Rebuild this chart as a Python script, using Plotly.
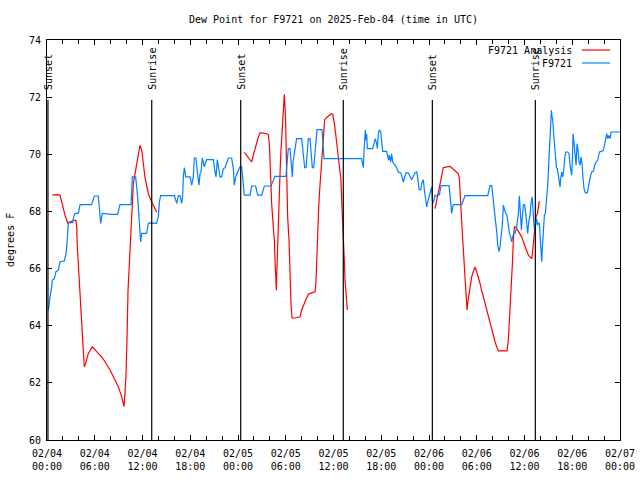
import pandas as pd
import plotly.graph_objects as go

BASE = pd.Timestamp("2025-02-04 00:00")

# Hours after 2025-02-04 00:00 UTC and dew point (F)
obs_hours = [0.17, 0.25, 0.38, 0.59, 0.67, 0.92, 1.13, 1.42, 1.63, 2.18, 2.39, 2.51, 2.68, 2.89, 3.23, 3.35, 3.52, 3.94,
             4.15, 5.61, 5.95, 6.45, 6.66, 6.74, 6.87, 6.95, 8.13, 8.88, 9.17, 10.56, 10.72, 11.14, 11.39, 11.69, 11.77,
             11.90, 12.52, 12.73, 12.94, 13.78, 13.99, 14.12, 14.28, 16.01, 16.21, 16.30, 16.50, 16.71, 16.92, 17.05,
             17.13, 17.26, 17.43, 17.97, 18.18, 18.39, 18.51, 18.72, 18.89, 19.10, 19.23, 19.35, 19.52, 19.65, 19.77,
             20.06, 20.90, 21.11, 21.24, 21.40, 21.57, 21.74, 21.95, 22.16, 22.37, 22.58, 22.79, 23.20, 23.41, 23.54,
             23.71, 23.96, 24.25, 24.46, 24.67, 24.79, 25.51, 25.72, 26.22, 26.47, 26.98, 27.31, 28.15, 28.44, 28.65,
             30.03, 30.16, 30.32, 30.53, 30.66, 30.74, 30.83, 30.91, 31.04, 31.25, 31.37, 32.00, 32.13, 32.30, 32.38,
             32.55, 32.71, 32.84, 33.05, 33.17, 33.34, 33.51, 33.68, 33.80, 33.93, 34.56, 34.68, 34.81, 39.54, 39.62,
             39.75, 39.84, 39.92, 40.00, 40.09, 40.17, 40.25, 40.92, 41.09, 41.26, 41.42, 41.51, 41.64, 41.76, 41.93,
             42.05, 42.18, 42.68, 42.81, 42.93, 43.02, 43.19, 43.31, 43.44, 43.65, 43.86, 44.15, 44.44, 44.61, 44.78,
             44.95, 45.11, 45.41, 45.62, 45.82, 46.03, 46.24, 46.45, 46.58, 46.75, 46.96, 47.08, 47.29, 47.42, 47.58,
             47.71, 47.84, 47.96, 48.13, 48.34, 48.42, 48.51, 48.63, 48.76, 48.97, 49.18, 49.30, 49.39, 49.51, 50.52,
             50.64, 50.77, 50.85, 50.94, 51.06, 52.11, 52.32, 52.53, 55.38, 55.54, 55.67, 55.88, 56.00, 56.13, 56.30,
             56.42, 56.55, 56.63, 56.80, 56.93, 57.05, 57.22, 57.34, 57.47, 57.64, 57.80, 57.97, 58.10, 58.27, 58.39,
             58.52, 58.64, 58.81, 59.02, 59.23, 59.36, 59.44, 59.52, 59.61, 59.69, 59.77, 59.86, 59.94, 60.03, 60.15,
             60.28, 60.40, 60.53, 60.70, 60.82, 60.95, 61.03, 61.12, 61.24, 61.41, 61.53, 61.62, 61.74, 61.87, 61.95,
             62.04, 62.16, 62.25, 62.37, 62.50, 62.62, 62.79, 62.92, 63.04, 63.17, 63.29, 63.38, 63.46, 63.55, 63.63,
             63.75, 63.88, 64.01, 64.13, 64.26, 64.34, 64.47, 64.55, 64.68, 64.80, 64.93, 65.05, 65.18, 65.43, 65.60,
             65.72, 65.81, 65.93, 66.02, 66.10, 66.23, 66.35, 66.48, 66.60, 66.73, 66.85, 66.98, 67.11, 67.23, 67.36,
             67.48, 67.65, 67.90, 68.03, 68.15, 68.32, 68.45, 68.66, 68.82, 68.99, 69.20, 69.41, 69.70, 69.91, 70.04,
             70.21, 70.33, 70.46, 70.58, 70.75, 70.88, 72.00]
obs_values = [64.55, 64.78, 65.01, 65.36, 65.59, 65.65, 65.89, 65.94, 66.24, 66.27, 66.53, 66.88, 67.58, 67.61, 67.61,
              67.81, 67.93, 67.93, 68.24, 68.24, 68.54, 68.54, 67.81, 67.58, 67.81, 67.93, 67.90, 67.90, 68.24, 68.24,
              69.21, 69.21, 68.51, 67.23, 66.93, 67.23, 67.23, 67.58, 67.60, 67.58, 67.83, 68.33, 68.55, 68.55, 68.28,
              68.28, 68.55, 68.55, 68.28, 68.55, 69.21, 69.53, 69.21, 69.21, 68.92, 69.21, 69.87, 69.87, 69.38, 68.92,
              69.32, 69.38, 69.87, 69.73, 69.56, 69.81, 69.81, 69.38, 69.21, 69.81, 69.56, 69.21, 69.21, 69.50, 69.53,
              69.73, 69.87, 69.87, 69.50, 68.92, 69.21, 69.38, 69.56, 69.56, 68.86, 68.57, 68.57, 68.89, 68.89, 68.57,
              68.57, 68.89, 68.89, 69.09, 69.23, 69.23, 69.67, 70.20, 70.20, 69.73, 69.44, 69.21, 69.73, 69.97, 70.37,
              70.55, 70.55, 70.20, 69.73, 69.53, 69.53, 70.20, 70.55, 70.55, 70.14, 69.53, 69.53, 70.20, 70.55, 70.86,
              70.86, 70.49, 69.85, 69.85, 69.73, 69.53, 70.14, 70.49, 70.86, 70.49, 70.72, 70.20, 70.20, 70.37, 70.55,
              70.37, 70.20, 70.72, 70.86, 70.78, 70.49, 70.10, 70.10, 69.97, 69.79, 69.97, 69.73, 70.02, 69.73, 69.65,
              69.58, 69.38, 69.35, 69.21, 69.03, 69.21, 69.35, 69.35, 69.23, 69.11, 69.23, 69.35, 69.38, 69.18, 68.76,
              68.76, 68.97, 69.11, 68.74, 68.39, 68.16, 68.33, 68.45, 68.57, 68.86, 68.39, 68.28, 68.39, 68.57, 68.53,
              68.60, 68.57, 68.74, 68.90, 68.90, 68.62, 68.16, 67.93, 68.10, 68.24, 68.24, 68.39, 68.55, 68.55, 68.74,
              68.90, 68.90, 68.62, 68.16, 67.93, 67.46, 67.17, 66.82, 66.59, 66.76, 67.11, 67.58, 68.22, 68.04, 67.93,
              67.87, 67.58, 67.23, 67.11, 66.93, 67.11, 67.23, 67.23, 67.46, 67.93, 68.55, 68.16, 67.58, 67.34, 67.69,
              68.16, 68.22, 68.24, 68.22, 67.93, 67.46, 67.23, 67.63, 67.87, 68.28, 68.51, 68.22, 67.81, 67.34, 67.58,
              67.75, 67.52, 67.58, 67.58, 67.23, 66.64, 66.24, 66.76, 67.58, 67.87, 67.93, 68.39, 68.92, 69.62, 70.43,
              71.19, 71.54, 71.31, 71.19, 70.84, 70.49, 69.91, 69.53, 69.50, 69.27, 69.03, 68.86, 69.15, 69.38, 69.21,
              69.44, 69.85, 70.08, 70.08, 70.02, 69.62, 69.38, 69.27, 69.85, 70.72, 70.37, 69.91, 69.62, 70.37, 70.14,
              69.73, 69.62, 69.91, 69.67, 69.15, 68.80, 68.65, 68.65, 68.86, 69.09, 69.27, 69.38, 69.41, 69.62, 69.73,
              69.79, 70.08, 70.10, 70.14, 70.31, 70.49, 70.72, 70.55, 70.66, 70.55, 70.78, 70.78]

ana1_hours = [0.67, 1.21, 1.63, 1.84, 2.05, 2.26, 2.60, 3.10, 3.44, 3.64, 3.73, 3.81, 3.94, 4.06, 4.19, 4.31, 4.44, 4.61,
              4.69, 4.86, 5.19, 5.70, 6.24, 6.87, 7.29, 7.92, 8.54, 8.96, 9.38, 9.68, 9.80, 9.93, 10.05, 10.18, 10.35,
              10.56, 10.72, 10.85, 11.06, 11.27, 11.48, 11.69, 11.90, 12.10, 12.31, 12.73, 13.15, 13.78]
ana1_values = [68.57, 68.59, 68.57, 68.33, 68.10, 67.87, 67.60, 67.66, 67.69, 67.69, 67.46, 66.76, 66.06, 65.48, 64.78,
               64.20, 63.50, 62.91, 62.56, 62.68, 63.03, 63.26, 63.09, 62.91, 62.74, 62.45, 62.10, 61.86, 61.52, 61.17,
               61.63, 62.33, 63.50, 65.24, 66.18, 67.58, 68.39, 68.97, 69.32, 69.67, 70.02, 70.31, 70.14, 69.70, 69.20,
               68.62, 68.33, 67.98]

ana2_hours = [24.79, 25.09, 25.38, 25.72, 25.93, 26.14, 26.35, 26.56, 26.77, 26.98, 27.60, 27.81, 27.94, 28.06, 28.15,
              28.23, 28.40, 28.57, 28.65, 28.73, 28.82, 28.86, 28.94, 29.07, 29.15, 29.28, 29.40, 29.57, 29.70, 29.82,
              29.91, 29.99, 30.12, 30.24, 30.41, 30.53, 30.66, 30.79, 31.16, 31.79, 32.00, 32.42, 32.63, 32.84, 33.26,
              33.68, 33.80, 33.89, 33.97, 34.14, 34.26, 34.39, 34.56, 34.72, 34.89, 35.10, 35.52, 35.73, 35.90, 35.98,
              36.11, 36.27, 36.40, 36.57, 36.69, 36.82, 36.94, 37.03, 37.11, 37.19, 37.28, 37.36, 37.45, 37.57, 37.66,
              37.74]
ana2_values = [70.07, 69.97, 69.85, 69.73, 69.97, 70.20, 70.43, 70.61, 70.75, 70.75, 70.72, 70.69, 70.37, 69.44, 68.97,
               68.28, 67.58, 66.99, 66.29, 65.65, 65.24, 65.71, 66.53, 67.46, 68.39, 69.32, 70.14, 70.96, 71.60, 72.10,
               71.65, 71.07, 69.32, 67.81, 66.99, 65.83, 64.78, 64.27, 64.27, 64.31, 64.55, 64.84, 65.01, 65.10, 65.15,
               65.19, 65.54, 66.41, 67.34, 68.16, 68.74, 69.32, 70.14, 70.72, 71.21, 71.28, 71.36, 71.42, 71.40, 71.31,
               71.07, 70.72, 70.37, 70.14, 69.79, 69.44, 69.09, 68.39, 67.69, 66.99, 66.41, 66.29, 65.59, 65.24, 64.90,
               64.55]

ana3_hours = [48.76, 48.97, 49.18, 49.39, 49.59, 49.80, 50.22, 50.64, 50.85, 51.27, 51.69, 51.81, 51.94, 52.02, 52.19,
              52.32, 52.44, 52.53, 52.61, 52.69, 52.78, 52.86, 52.95, 53.07, 53.20, 53.36, 53.57, 53.78, 53.99, 54.20,
              54.41, 54.62, 54.83, 55.04, 55.25, 55.46, 55.67, 55.88, 56.09, 56.30, 56.51, 56.72, 57.34, 57.80, 57.97,
              58.10, 58.22, 58.35, 58.48, 58.60, 58.73, 58.89, 59.02, 59.23, 59.44, 59.65, 59.86, 60.07, 60.28, 60.49,
              60.70, 60.91, 60.99, 61.12, 61.24, 61.33, 61.45, 61.62, 61.74, 61.87]
ana3_values = [68.10, 68.39, 68.62, 68.97, 69.27, 69.53, 69.56, 69.58, 69.53, 69.44, 69.32, 69.18, 68.39, 67.81, 67.23,
               66.64, 66.06, 65.48, 65.13, 64.84, 64.55, 64.78, 64.95, 65.24, 65.48, 65.71, 65.89, 66.06, 65.89, 65.71,
               65.48, 65.24, 65.01, 64.78, 64.55, 64.31, 64.08, 63.85, 63.61, 63.44, 63.26, 63.12, 63.12, 63.12, 63.50,
               64.08, 64.78, 65.59, 66.18, 66.99, 67.46, 67.46, 67.40, 67.28, 67.23, 67.11, 66.93, 66.76, 66.59, 66.47,
               66.41, 66.35, 66.53, 66.88, 67.23, 67.58, 67.81, 67.93, 68.22, 68.36]

sun_hours = [0.12, 13.16, 24.34, 37.23, 48.42, 61.36]
sun_labels = ["Sunset", "Sunrise", "Sunset", "Sunrise", "Sunset", "Sunrise"]

FONT = "DejaVu Sans Mono"


def to_time(hours):
    return [BASE + pd.Timedelta(hours=h) for h in hours]


ana_x = to_time(ana1_hours) + [None] + to_time(ana2_hours) + [None] + to_time(ana3_hours)
ana_y = ana1_values + [None] + ana2_values + [None] + ana3_values

fig = go.Figure()
fig.add_trace(go.Scatter(x=ana_x, y=ana_y, mode="lines", name="F9721 Analysis",
                         line=dict(color="#ff0000", width=1.2), connectgaps=False))
fig.add_trace(go.Scatter(x=to_time(obs_hours), y=obs_values, mode="lines", name="F9721",
                         line=dict(color="#0080ff", width=1.2)))

for h, lab in zip(sun_hours, sun_labels):
    t = BASE + pd.Timedelta(hours=h)
    fig.add_shape(type="line", xref="x", yref="paper", x0=t, x1=t, y0=0, y1=0.85,
                  line=dict(color="black", width=1.2))
    fig.add_annotation(x=t, xref="x", y=0.87, yref="paper", text=lab, textangle=-90,
                       showarrow=False, xanchor="center", yanchor="bottom",
                       font=dict(family=FONT, size=10, color="black"))

# legend (gnuplot style: text then sample line)
legend_rows = [("F9721 Analysis", "#ff0000", 0.975), ("F9721", "#0080ff", 0.9425)]
for name, col, yy in legend_rows:
    fig.add_annotation(x=0.9197, y=yy, xref="paper", yref="paper", text=name, showarrow=False,
                       xanchor="right", yanchor="middle", font=dict(family=FONT, size=10, color="black"))
    fig.add_shape(type="line", xref="paper", yref="paper", x0=0.9337, x1=0.9825, y0=yy, y1=yy,
                  line=dict(color=col, width=1.2))

fig.add_annotation(x=-0.0646, y=0.5, xref="paper", yref="paper", text="degrees F", textangle=-90,
                   showarrow=False, xanchor="center", yanchor="middle",
                   font=dict(family=FONT, size=10, color="black"))

fig.update_layout(
    width=640, height=480,
    margin=dict(l=47, r=20, t=40, b=40, autoexpand=False),
    paper_bgcolor="white", plot_bgcolor="white",
    showlegend=False,
    font=dict(family=FONT, size=10, color="black"),
    title=dict(text="Dew Point for F9721 on 2025-Feb-04 (time in UTC)", x=0.5, xref="paper",
               y=1 - 19 / 480, yref="container", yanchor="middle",
               font=dict(family=FONT, size=10, color="black")),
)
fig.update_xaxes(
    type="date", range=[BASE, BASE + pd.Timedelta(hours=72)],
    tick0=BASE, dtick=6 * 3600 * 1000, tickformat="%m/%d<br>%H:%M",
    ticks="inside", ticklen=5, tickcolor="black", showline=True, linecolor="black", linewidth=1,
    mirror="ticks", showgrid=False, zeroline=False, automargin=False, ticklabelstandoff=4,
    minor=dict(dtick=2 * 3600 * 1000, ticks="inside", ticklen=4, tickcolor="black", showgrid=False),
)
fig.update_yaxes(
    range=[60, 74], dtick=2, ticks="inside", ticklen=5, tickcolor="black", automargin=False,
    ticklabelstandoff=3,
    showline=True, linecolor="black", linewidth=1, mirror="ticks", showgrid=False, zeroline=False,
)

fig.write_html("out.html", config={"displayModeBar": False},
               post_script="document.body.style.margin='0';document.body.style.overflow='hidden';")
